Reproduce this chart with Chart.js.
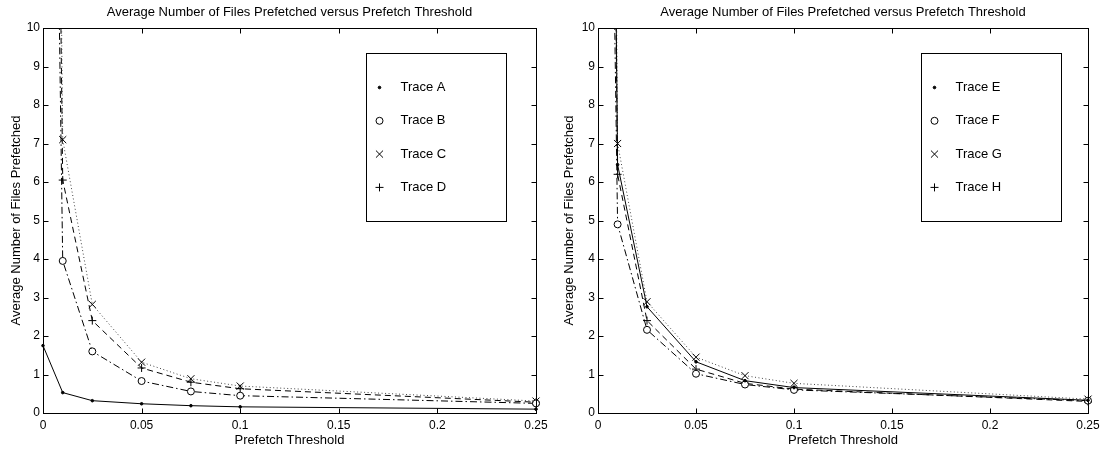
<!DOCTYPE html>
<html>
<head>
<meta charset="utf-8">
<script src="https://cdn.jsdelivr.net/npm/chart.js@4.4.0/dist/chart.umd.min.js"></script>
<style>
  body { margin: 0; background: #fff; }
  .wrap { display: flex; width: 1106px; height: 450px; }
  canvas { display: block; }
</style>
</head>
<body>
<div class="wrap">
  <canvas id="leftChart" width="553" height="450"></canvas>
  <canvas id="rightChart" width="553" height="450"></canvas>
</div>
<script>
// ---- DATA ----------------------------------------------------------
const chartTitle = "Average Number of Files Prefetched versus Prefetch Threshold";
const xTitle = "Prefetch Threshold";
const yTitle = "Average Number of Files Prefetched";

const thresholds = [0, 0.01, 0.025, 0.05, 0.075, 0.1, 0.25];
const xTickValues = [0, 0.05, 0.1, 0.15, 0.2, 0.25];
const xTickLabels = ["0", "0.05", "0.1", "0.15", "0.2", "0.25"];
const yTickValues = [0, 1, 2, 3, 4, 5, 6, 7, 8, 9, 10];
const yTickLabels = ["0", "1", "2", "3", "4", "5", "6", "7", "8", "9", "10"];

// left panel (values at x=0 run far off the top of the plot)
const leftLabels = ["Trace A", "Trace B", "Trace C", "Trace D"];
const traceA = [1.75, 0.53, 0.32, 0.24, 0.19, 0.16, 0.1];
const traceB = [40, 3.95, 1.6, 0.83, 0.56, 0.45, 0.25];
const traceC = [60, 7.1, 2.82, 1.32, 0.89, 0.7, 0.31];
const traceD = [50, 6.05, 2.4, 1.17, 0.8, 0.63, 0.28];

// right panel
const rightLabels = ["Trace E", "Trace F", "Trace G", "Trace H"];
const traceE = [60, 6.45, 2.76, 1.33, 0.84, 0.66, 0.33];
const traceF = [40, 4.9, 2.16, 1.02, 0.74, 0.6, 0.32];
const traceG = [70, 7.0, 2.89, 1.45, 0.97, 0.77, 0.36];
const traceH = [55, 6.2, 2.4, 1.14, 0.77, 0.62, 0.3];

// ---- STYLES --------------------------------------------------------
const FONT = '"Liberation Sans", Arial, Helvetica, sans-serif';

// one look per trace slot: marker + line dash
const looks = [
  { pointStyle: "circle", radius: 1.3, fill: "#000", dash: [] },            // dot, solid
  { pointStyle: "circle", radius: 3.5, fill: "#fff", dash: [7, 3, 1.5, 3] }, // o, dash-dot
  { pointStyle: "crossRot", radius: 5, fill: "#000", dash: [1, 2.5] },      // x, dotted
  { pointStyle: "cross", radius: 4, fill: "#000", dash: [6, 4] }            // +, dashed
];

function buildDatasets(labels, series) {
  return series.map((vals, i) => ({
    label: labels[i],
    data: thresholds.map((x, j) => ({ x: x, y: vals[j] })),
    borderColor: i === 2 ? "#444" : "#000",
    borderWidth: 1,
    borderDash: looks[i].dash,
    pointStyle: looks[i].pointStyle,
    pointRadius: looks[i].radius,
    pointBackgroundColor: looks[i].fill,
    pointBorderColor: "#000",
    pointBorderWidth: 1,
    tension: 0,
    fill: false,
    clip: { left: 6, top: 0, right: 6, bottom: 6 }
  }));
}

// ---- small marker painter for the legend ---------------------------
function drawMarker(ctx, style, x, y) {
  ctx.beginPath();
  const r = style.radius;
  if (style.pointStyle === "circle") {
    ctx.arc(x, y, r, 0, Math.PI * 2);
    ctx.fillStyle = style.fill;
    ctx.fill();
    ctx.stroke();
  } else if (style.pointStyle === "cross") {
    ctx.moveTo(x - r, y); ctx.lineTo(x + r, y);
    ctx.moveTo(x, y - r); ctx.lineTo(x, y + r);
    ctx.stroke();
  } else {
    const d = r * Math.SQRT1_2;
    ctx.moveTo(x - d, y - d); ctx.lineTo(x + d, y + d);
    ctx.moveTo(x - d, y + d); ctx.lineTo(x + d, y - d);
    ctx.stroke();
  }
}

// ---- frame, inward ticks, title and boxed legend -------------------
const framePlugin = {
  id: "frame",
  afterDraw(chart) {
    const { ctx, chartArea: a, scales } = chart;
    const L = Math.round(a.left) + 0.5, R = Math.round(a.right) + 0.5;
    const T = Math.round(a.top) + 0.5, B = Math.round(a.bottom) + 0.5;
    ctx.save();
    ctx.strokeStyle = "#000";
    ctx.lineWidth = 1;
    ctx.setLineDash([]);
    ctx.strokeRect(L, T, R - L, B - T);

    const tl = 5;
    ctx.beginPath();
    xTickValues.forEach(v => {
      const px = Math.round(scales.x.getPixelForValue(v)) + 0.5;
      ctx.moveTo(px, B); ctx.lineTo(px, B - tl);
      ctx.moveTo(px, T); ctx.lineTo(px, T + tl);
    });
    yTickValues.forEach(v => {
      const py = Math.round(scales.y.getPixelForValue(v)) + 0.5;
      ctx.moveTo(L, py); ctx.lineTo(L + tl, py);
      ctx.moveTo(R, py); ctx.lineTo(R - tl, py);
    });
    ctx.stroke();

    // title centred over the plot
    ctx.fillStyle = "#000";
    ctx.font = "13px " + FONT;
    ctx.textAlign = "center";
    ctx.textBaseline = "middle";
    ctx.fillText(chartTitle, (a.left + a.right) / 2, 12);

    // legend box
    const bx = Math.round(a.left + 323) + 0.5, by = Math.round(a.top + 25) + 0.5;
    const bw = 140, bh = 168;
    ctx.fillStyle = "#fff";
    ctx.fillRect(bx, by, bw, bh);
    ctx.strokeRect(bx, by, bw, bh);
    chart.data.datasets.forEach((ds, i) => {
      const cy = by + 34 + i * 33.3;
      drawMarker(ctx, looks[i], bx + 13, cy);
      ctx.fillStyle = "#000";
      ctx.textAlign = "left";
      ctx.fillText(ds.label, bx + 34, cy);
    });
    ctx.restore();
  }
};

// ---- CHART FACTORY -------------------------------------------------
function makeChart(id, labels, series, yWidth, padRight) {
  return new Chart(document.getElementById(id), {
    type: "line",
    data: { datasets: buildDatasets(labels, series) },
    options: {
      responsive: false,
      animation: false,
      layout: { padding: { left: 0, right: padRight, top: 28, bottom: 0 } },
      plugins: {
        legend: { display: false },
        title: { display: false },
        tooltip: { enabled: false }
      },
      scales: {
        x: {
          type: "linear",
          min: 0,
          max: 0.25,
          afterBuildTicks: s => { s.ticks = xTickValues.map(v => ({ value: v })); },
          afterFit: s => { s.height = 37; },
          grid: { display: false, drawTicks: false },
          border: { display: false },
          ticks: {
            color: "#000",
            font: { family: FONT, size: 12 },
            padding: 5,
            maxRotation: 0,
            callback: (v, i) => xTickLabels[i]
          },
          title: {
            display: true,
            text: xTitle,
            color: "#000",
            font: { family: FONT, size: 13 },
            padding: { top: 0, bottom: 2 }
          }
        },
        y: {
          type: "linear",
          min: 0,
          max: 10,
          afterBuildTicks: s => { s.ticks = yTickValues.map(v => ({ value: v })); },
          afterFit: s => { s.width = yWidth; },
          grid: { display: false, drawTicks: false },
          border: { display: false },
          ticks: {
            color: "#000",
            font: { family: FONT, size: 12 },
            padding: 3,
            callback: (v, i) => yTickLabels[i]
          },
          title: {
            display: true,
            text: yTitle,
            color: "#000",
            font: { family: FONT, size: 13 },
            padding: { top: 9, bottom: 0 }
          }
        }
      }
    },
    plugins: [framePlugin]
  });
}

makeChart("leftChart", leftLabels, [traceA, traceB, traceC, traceD], 43, 17);
makeChart("rightChart", rightLabels, [traceE, traceF, traceG, traceH], 45, 18);
</script>
</body>
</html>
